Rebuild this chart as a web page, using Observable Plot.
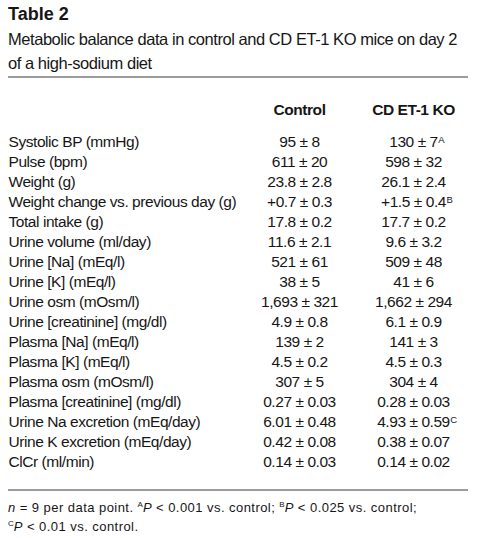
<!DOCTYPE html>
<html><head><meta charset="utf-8">
<script src="https://cdn.jsdelivr.net/npm/d3@7"></script>
<script src="https://cdn.jsdelivr.net/npm/@observablehq/plot@0.6"></script>
<style>
body{margin:0;background:#fff;}
#wrap{width:479px;color:#161616;font-family:"Liberation Sans",Arial,sans-serif;}
.title{font-weight:bold;font-size:18px;line-height:20px;margin:0 0 0 8px;padding-top:4px;height:20px;}
.sub{font-size:16.5px;letter-spacing:-0.45px;line-height:24px;margin:3px 0 0 8px;height:47px;white-space:nowrap;}
.rule{margin:2px 0 0 8px;width:460px;height:2px;background:#9c9c9c;}
.cap{font-size:13px;letter-spacing:0.45px;line-height:19px;margin:0 0 0 8px;width:460px;border-top:2px solid #9c9c9c;padding-top:7px;white-space:nowrap;}
.cap sup{font-size:8px;vertical-align:5px;line-height:0;letter-spacing:0;}
svg{display:block;}
svg text{letter-spacing:-0.44px;}
</style>
</head><body>
<div id="wrap">
<div class="title">Table 2</div>
<div class="sub">Metabolic balance data in control and CD ET-1 KO mice on day 2<br>of a high-sodium diet</div>
<div class="rule"></div>
<div id="chart"></div>
<div class="cap"><i>n</i> = 9 per data point. <sup>A</sup><i>P</i> &lt; 0.001 vs. control; <sup>B</sup><i>P</i> &lt; 0.025 vs. control;<br><sup>C</sup><i>P</i> &lt; 0.01 vs. control.</div>
</div>
<script>
const labels = [
  "Systolic BP (mmHg)",
  "Pulse (bpm)",
  "Weight (g)",
  "Weight change vs. previous day (g)",
  "Total intake (g)",
  "Urine volume (ml/day)",
  "Urine [Na] (mEq/l)",
  "Urine [K] (mEq/l)",
  "Urine osm (mOsm/l)",
  "Urine [creatinine] (mg/dl)",
  "Plasma [Na] (mEq/l)",
  "Plasma [K] (mEq/l)",
  "Plasma osm (mOsm/l)",
  "Plasma [creatinine] (mg/dl)",
  "Urine Na excretion (mEq/day)",
  "Urine K excretion (mEq/day)",
  "ClCr (ml/min)"
];
const groups = ["Control", "CD ET-1 KO"];
const controlMean = [95, 611, 23.8, 0.7, 17.8, 11.6, 521, 38, 1693, 4.9, 139, 4.5, 307, 0.27, 6.01, 0.42, 0.14];
const controlSem  = [8, 20, 2.8, 0.3, 0.2, 2.1, 61, 5, 321, 0.8, 2, 0.2, 5, 0.03, 0.48, 0.08, 0.03];
const koMean      = [130, 598, 26.1, 1.5, 17.7, 9.6, 509, 41, 1662, 6.1, 141, 4.5, 304, 0.28, 4.93, 0.38, 0.14];
const koSem       = [7, 32, 2.4, 0.4, 0.2, 3.2, 48, 6, 294, 0.9, 3, 0.3, 4, 0.03, 0.59, 0.07, 0.02];
const decimals    = [0, 0, 1, 1, 1, 1, 0, 0, 0, 1, 0, 1, 0, 2, 2, 2, 2];
const signedRows  = ["Weight change vs. previous day (g)"];
const koNotes     = ["A", "", "", "B", "", "", "", "", "", "", "", "", "", "", "C", "", ""];

function fmt(i, mean, sem) {
  const d = decimals[i];
  const sign = signedRows.includes(labels[i]) ? "+" : "";
  return d3.format(sign + ",." + d + "f")(mean) + " \u00b1 " + d3.format(",." + d + "f")(sem);
}
const rows = labels.map((label, i) => ({
  label,
  control: fmt(i, controlMean[i], controlSem[i]),
  ko: fmt(i, koMean[i], koSem[i]),
  note: koNotes[i]
}));

const FONT = "'Liberation Sans',Arial,sans-serif";
const INK = "#161616";
const plot = Plot.plot({
  width: 479,
  height: 411,
  marginTop: 58,
  marginBottom: 21,
  marginLeft: 8,
  marginRight: 0,
  style: {fontFamily: FONT, fontSize: "15.5px", color: INK, background: "#fff"},
  x: {type: "point", domain: groups, range: [299, 413], padding: 0, axis: null},
  y: {type: "point", domain: labels, padding: 0, axis: null},
  marks: [
    Plot.text(groups, {x: d => d, text: d => d, frameAnchor: "top", lineAnchor: "middle", dy: -26, fontWeight: "bold", fontSize: 15.5, fill: INK}),
    Plot.text(rows, {y: "label", text: "label", frameAnchor: "left", textAnchor: "start", fontSize: 15.5, fill: INK}),
    Plot.text(rows, {x: () => "Control", y: "label", text: "control", fontSize: 15.5, fill: INK}),
    Plot.text(rows, {x: () => "CD ET-1 KO", y: "label", text: "ko", fontSize: 15.5, fill: INK, ariaDescription: "ko-values"})
  ]
});
document.getElementById("chart").appendChild(plot);

// superscript notes appended to the KO values
let koGroup = d3.select(plot).select('g[aria-description="ko-values"]');
if (koGroup.empty()) koGroup = d3.select(d3.select(plot).selectAll('g[aria-label="text"]').nodes()[3]);
koGroup.selectAll("text").each(function(_, i) {
  const note = rows[i] && rows[i].note;
  if (!note) return;
  const t = d3.select(this);
  const sup = t.append("tspan").attr("font-size", 9.5).attr("dy", "-0.5em").attr("dx", 0.5).text(note);
  const w = sup.node().getComputedTextLength() + 0.5;
  t.attr("dx", w / 2);
});
</script>
</body></html>
